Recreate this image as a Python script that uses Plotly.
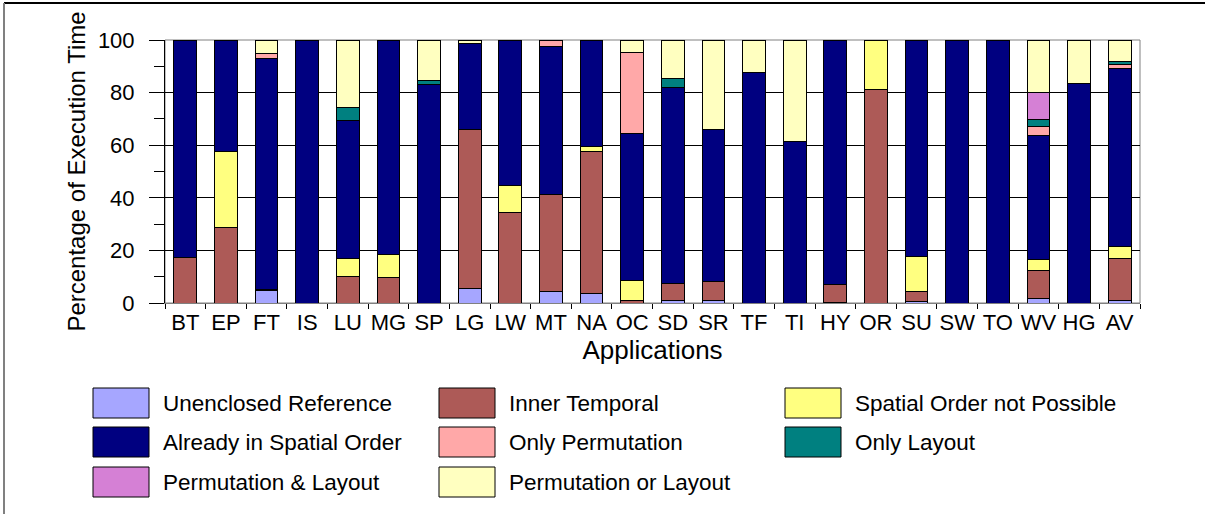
import plotly.graph_objects as go

categories = ["BT", "EP", "FT", "IS", "LU", "MG", "SP", "LG", "LW", "MT", "NA", "OC",
              "SD", "SR", "TF", "TI", "HY", "OR", "SU", "SW", "TO", "WV", "HG", "AV"]

unenclosed_reference = [0, 0, 4.6, 0, 0, 0, 0, 5.7, 0, 4.2, 3.8, 0,
                        0.8, 0.8, 0, 0, 0.3, 0, 0.4, 0, 0, 1.6, 0, 0.9]
inner_temporal = [17.3, 28.8, 0.7, 0, 9.9, 9.6, 0, 60.2, 34.6, 37.0, 53.9, 0.9,
                  6.8, 7.3, 0, 0, 6.9, 81.2, 3.9, 0, 0, 10.7, 0, 16.0]
spatial_not_possible = [0, 28.9, 0, 0, 7.0, 8.7, 0, 0, 10.1, 0, 1.7, 7.7,
                        0, 0, 0, 0, 0, 18.8, 13.5, 0, 0, 4.3, 0, 4.4]
already_spatial = [82.7, 42.3, 87.8, 100, 52.4, 81.7, 82.9, 32.6, 55.3, 56.5, 40.6, 55.7,
                   74.5, 58.0, 87.7, 61.5, 92.8, 0, 82.2, 100, 100, 47.0, 83.4, 67.8]
only_permutation = [0, 0, 1.6, 0, 0, 0, 0, 0, 0, 2.3, 0, 31.0,
                    0, 0, 0, 0, 0, 0, 0, 0, 0, 3.4, 0, 1.5]
only_layout = [0, 0, 0, 0, 5.1, 0, 1.7, 0, 0, 0, 0, 0,
               3.1, 0, 0, 0, 0, 0, 0, 0, 0, 2.8, 0, 1.2]
perm_and_layout = [0, 0, 0, 0, 0, 0, 0, 0, 0, 0, 0, 0,
                   0, 0, 0, 0, 0, 0, 0, 0, 0, 10.3, 0, 0]
perm_or_layout = [0, 0, 5.3, 0, 25.6, 0, 15.4, 1.5, 0, 0, 0, 4.7,
                  14.8, 33.9, 12.3, 38.5, 0, 0, 0, 0, 0, 19.9, 16.6, 8.2]

series_names = ["Unenclosed Reference", "Inner Temporal", "Spatial Order not Possible",
                "Already in Spatial Order", "Only Permutation", "Only Layout",
                "Permutation & Layout", "Permutation or Layout"]
series_values = [unenclosed_reference, inner_temporal, spatial_not_possible, already_spatial,
                 only_permutation, only_layout, perm_and_layout, perm_or_layout]
series_colors = ["#A6A6FF", "#AD5A57", "#FFFF80", "#000080",
                 "#FFA8A8", "#008080", "#D580D5", "#FFFFC0"]

y_ticks = [0, 20, 40, 60, 80, 100]
y_minor = [10, 30, 50, 70, 90]

FONT = "Arial, 'Liberation Sans', sans-serif"
W, H = 1205, 514
ML, MR, MT, MB = 165, 65, 40, 211
PW, PH = W - ML - MR, H - MT - MB


def px(x):
    return (x - ML) / PW


def py(y):
    return (H - MB - y) / PH


fig = go.Figure()
for name, vals, col in zip(series_names, series_values, series_colors):
    fig.add_trace(go.Bar(
        x=categories, y=[v if v > 0 else None for v in vals], name=name,
        marker=dict(color=col, line=dict(color="#000000", width=1)),
        showlegend=False,
    ))

n = len(categories)
boundaries = [i - 0.5 for i in range(n + 1)]

fig.update_layout(
    width=W, height=H,
    margin=dict(l=ML, r=MR, t=MT, b=MB, pad=0),
    paper_bgcolor="white", plot_bgcolor="white",
    barmode="stack", bargap=0.44,
    font=dict(family=FONT, size=22, color="black"),
    xaxis=dict(
        type="category", categoryarray=categories, range=[-0.5, n - 0.5],
        tickson="boundaries", ticks="outside", ticklen=5, tickcolor="#000000",
        tickangle=0,
        showline=True, linecolor="#808080", linewidth=1, showgrid=False,
        tickfont=dict(size=22),
        title=dict(text="Applications", font=dict(size=26), standoff=1),
    ),
    yaxis=dict(
        range=[0, 100], tickvals=y_ticks, ticks="outside", ticklen=15, tickcolor="#000000",
        ticklabelstandoff=10,
        showline=True, linecolor="#000000", linewidth=1,
        showgrid=True, gridcolor="#000000", gridwidth=1, zeroline=False,
        minor=dict(tickvals=y_minor, ticks="outside", ticklen=10, tickcolor="#000000", showgrid=False),
        tickfont=dict(size=22),
        title=dict(text="Percentage of Execution Time", font=dict(size=24), standoff=5),
    ),
    xaxis2=dict(
        overlaying="x", anchor="y", side="bottom", range=[-0.5, n - 0.5],
        tickvals=boundaries, ticks="inside", ticklen=8, tickcolor="#000000",
        showticklabels=False, showgrid=False, showline=False, zeroline=False,
    ),
    yaxis2=dict(
        overlaying="y", anchor="x", side="left", range=[0, 100],
        tickvals=y_minor, ticks="inside", ticklen=8, tickcolor="#000000",
        showticklabels=False, showgrid=False, showline=False, zeroline=False,
    ),
)

shapes = [
    dict(type="rect", xref="paper", yref="paper", x0=0, x1=1, y0=0, y1=1,
         line=dict(color="#808080", width=1), layer="between"),
    dict(type="line", xref="paper", yref="paper", x0=px(4), x1=px(W), y0=py(3), y1=py(3),
         line=dict(color="#000000", width=2)),
    dict(type="line", xref="paper", yref="paper", x0=px(4), x1=px(4), y0=py(3), y1=py(H),
         line=dict(color="#808080", width=2)),
]
annotations = []
col_x = [93, 439, 785]
row_y = [388, 427, 467]
sw_w, sw_h = 56, 30
for i, (name, col) in enumerate(zip(series_names, series_colors)):
    r, c = divmod(i, 3)
    x0, y0 = col_x[c], row_y[r]
    shapes.append(dict(type="rect", xref="paper", yref="paper",
                       x0=px(x0), x1=px(x0 + sw_w), y0=py(y0 + sw_h), y1=py(y0),
                       fillcolor=col, line=dict(color="#000000", width=1)))
    annotations.append(dict(xref="paper", yref="paper", x=px(x0 + 68), y=py(y0 + sw_h / 2),
                            text=name, showarrow=False, xanchor="left", yanchor="middle",
                            font=dict(family=FONT, size=22.5, color="black")))
fig.update_layout(shapes=shapes, annotations=annotations)

fig.write_html("out.html")
